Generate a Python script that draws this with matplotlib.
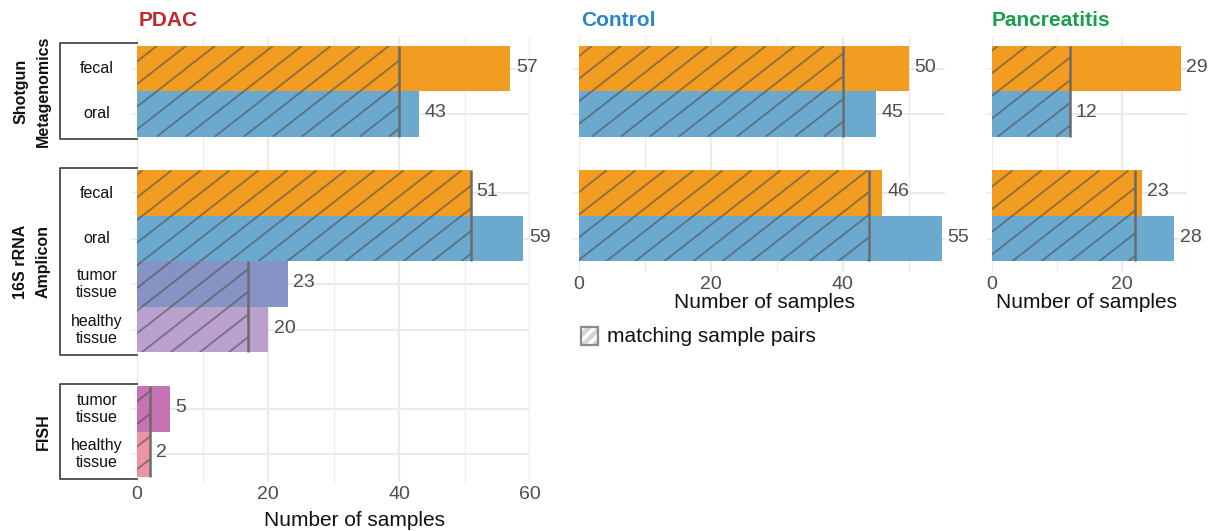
## Sample overview: number of samples per cohort and method, matching pairs hatched
import numpy as np
import matplotlib.pyplot as plt
from matplotlib.patches import Rectangle
from matplotlib.collections import LineCollection
from matplotlib.transforms import IdentityTransform, blended_transform_factory

plt.rcParams['font.family'] = ['Liberation Sans', 'DejaVu Sans']

# ---- data ----
pdac_groups = ['Shotgun\nMetagenomics', '16S rRNA\nAmplicon', 'FISH']
pdac_labels = [['fecal', 'oral'],
               ['fecal', 'oral', 'tumor\ntissue', 'healthy\ntissue'],
               ['tumor\ntissue', 'healthy\ntissue']]
pdac_counts = [[57, 43], [51, 59, 23, 20], [5, 2]]
pdac_match = [[40], [51, 17], [2]]          # one value per pair of bars

control_counts = [[50, 45], [46, 55]]
control_match = [[40], [44]]

panc_counts = [[29, 12], [23, 28]]
panc_match = [[12], [22]]

# ---- styles ----
ORANGE = '#F29C21'
BLUE = '#6BA9CF'
pdac_colors = [[ORANGE, BLUE],
               [ORANGE, BLUE, '#8893C5', '#BBA1CE'],
               ['#C673B3', '#EE93A6']]
ctrl_colors = [[ORANGE, BLUE], [ORANGE, BLUE]]

GRID = '#ECECE7'
TXT = '#4D4D4D'
GAP = 0.74
W, H = 1218, 531


def fig_xy(x, y):
    return x / W, 1 - y / H


def add_ax(fig, left, right, top, bottom):
    return fig.add_axes([left / W, 1 - bottom / H, (right - left) / W, (bottom - top) / H])


def positions(groups):
    out = []
    y = 0.0
    for gi, g in enumerate(groups):
        if gi > 0:
            y += GAP
        ys = []
        for _ in g:
            ys.append(y)
            y += 1
        out.append(ys)
    return out


def hatch(ax, x1, y0, y1, spacing=29, angle=38):
    # diagonal stripes clipped to the rectangle [0, x1] x [y0, y1] (data coords)
    rect = Rectangle((0, y0), x1, y1 - y0, transform=ax.transData)
    (ax0, ay0), (ax1, ay1) = ax.transData.transform([[0, y0], [x1, y1]])
    xmin, xmax = min(ax0, ax1), max(ax0, ax1)
    ymin, ymax = min(ay0, ay1), max(ay0, ay1)
    t = np.tan(np.radians(angle))
    cs = np.arange(np.floor((xmin - ymax / t) / spacing) * spacing, xmax - ymin / t + spacing, spacing)
    segs = [[(c + ymin / t, ymin), (c + ymax / t, ymax)] for c in cs]
    lc = LineCollection(segs, colors='#4a4a4a', alpha=0.55, linewidths=1.4,
                        transform=IdentityTransform(), zorder=3)
    ax.add_collection(lc)
    lc.set_clip_path(rect)   # after add_collection, otherwise the axes patch wins


def draw_panel(ax, counts, match, colors, xmax, major, minor, ylim):
    pos = positions(counts)
    ax.set_xlim(0, xmax)
    ax.set_ylim(*ylim)
    all_y = [y for g in pos for y in g]
    all_c = [c for g in counts for c in g]
    all_col = [c for g in colors for c in g]
    ax.barh(all_y, all_c, height=1, color=all_col, zorder=2)
    for ys, ms in zip(pos, match):
        for k, m in enumerate(ms):
            y0 = ys[2 * k] - 0.5
            y1 = ys[2 * k + 1] + 0.5
            hatch(ax, m, y0, y1)
            ax.plot([m, m], [y0, y1], color='#6b6b6b', lw=1.8, zorder=4, solid_capstyle='butt')
    for y, c in zip(all_y, all_c):
        ax.annotate(str(c), (c, y), xytext=(4, 1), textcoords='offset points',
                    ha='left', va='center', fontsize=14, color=TXT, zorder=5)
    ax.set_xticks(major)
    ax.set_xticks(minor, minor=True)
    ax.set_yticks(all_y)
    ax.set_yticklabels([])
    ax.grid(which='major', axis='x', color=GRID, lw=1.7)
    ax.grid(which='minor', axis='x', color=GRID, lw=0.9)
    ax.grid(which='major', axis='y', color=GRID, lw=1.5)
    ax.set_axisbelow(True)
    ax.tick_params(axis='x', which='both', length=0, pad=3, labelsize=14, labelcolor=TXT)
    ax.tick_params(axis='y', length=4, color=GRID, width=1.2)
    for s in ax.spines.values():
        s.set_visible(False)
    return pos


fig = plt.figure(figsize=(12.18, 5.31), dpi=100)
fig.patch.set_facecolor('white')

# pixel to data: bar unit = 45.5 px, first bar centre at y=68.5 px
unit, y_first = 45.5, 68.5
top = 37
ax_pdac = add_ax(fig, 137, 530, top, 482)
pos = draw_panel(ax_pdac, pdac_counts, pdac_match, pdac_colors, 60,
                 [0, 20, 40, 60], [10, 30, 50],
                 ((482 - y_first) / unit, (top - y_first) / unit))

ax_ctrl = add_ax(fig, 579, 945, top, 272)
draw_panel(ax_ctrl, control_counts, control_match, ctrl_colors, 55.5,
           [0, 20, 40], [10, 30, 50],
           ((272 - y_first) / unit, (top - y_first) / unit))

ax_panc = add_ax(fig, 992, 1187, top, 272)
draw_panel(ax_panc, panc_counts, panc_match, ctrl_colors, 30,
           [0, 20], [10, 30],
           ((272 - y_first) / unit, (top - y_first) / unit))

# PDAC row labels, brackets and method names
blend = blended_transform_factory(fig.transFigure, ax_pdac.transData)
for name, labels, ys in zip(pdac_groups, pdac_labels, pos):
    y0, y1 = ys[0] - 0.55, ys[-1] + 0.55
    ax_pdac.plot([137 / W, 60 / W, 60 / W, 137 / W], [y0, y0, y1, y1], color='#4a4a4a',
                 lw=1.3, transform=blend, clip_on=False, zorder=6)
    for lab, y in zip(labels, ys):
        ax_pdac.text(97 / W, y, lab, transform=blend, ha='center', va='center',
                     fontsize=11.5, linespacing=1.15, color='#111111')
    ax_pdac.text(51 / W, (y0 + y1) / 2, name, transform=blend, rotation=90, ha='right',
                 va='center', multialignment='center', fontsize=11.5, fontweight='bold',
                 linespacing=1.65, color='#111111')

# panel titles
for x, t, c in [(139, 'PDAC', '#C1272D'), (581, 'Control', '#2A86C6'), (992, 'Pancreatitis', '#17A04A')]:
    fig.text(*fig_xy(x, 21), t, color=c, fontsize=15, fontweight='bold', ha='left', va='center')

# axis titles
for x, y in [(355, 521), (764, 302), (1086, 302)]:
    fig.text(*fig_xy(x, y), 'Number of samples', fontsize=15, ha='center', va='center', color='#111111')

# legend
plt.rcParams['hatch.linewidth'] = 2.5
lx, ly = fig_xy(581, 345)
fig.patches.append(Rectangle((lx, ly), 17 / W, 18 / H, transform=fig.transFigure,
                             facecolor='#D5D5D5', edgecolor='white', hatch='///', lw=0))
fig.patches.append(Rectangle((lx, ly), 17 / W, 18 / H, transform=fig.transFigure,
                             fill=False, edgecolor='#8a8a8a', lw=1.6))
fig.text(*fig_xy(607, 336), 'matching sample pairs', fontsize=15, ha='left', va='center', color='#111111')

fig.savefig('out.png', dpi=100)
